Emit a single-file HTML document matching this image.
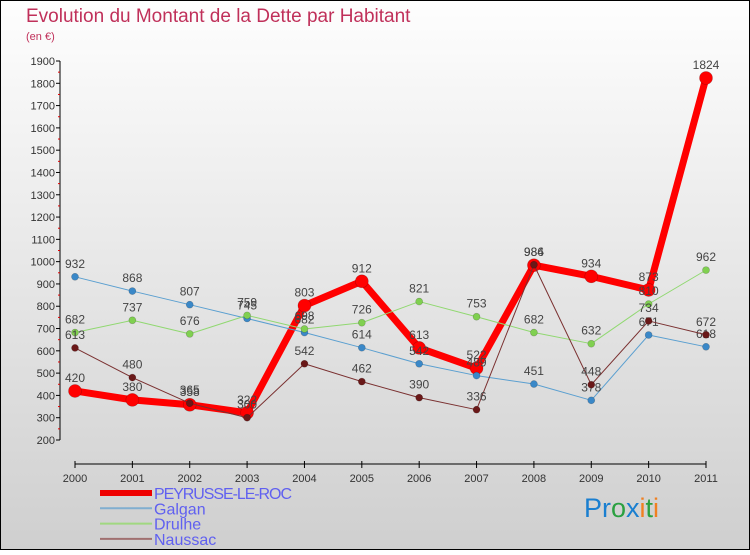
<!DOCTYPE html>
<html><head><meta charset="utf-8"><style>
body{margin:0}
svg text{font-family:"Liberation Sans",sans-serif}
</style></head><body>
<svg id="c" width="750" height="550" xmlns="http://www.w3.org/2000/svg">
<defs><linearGradient id="bg" x1="0" y1="0" x2="0" y2="1"><stop offset="0" stop-color="#fefefe"/><stop offset="1" stop-color="#cfcfcf"/></linearGradient></defs>
<rect x="0.5" y="0.5" width="749" height="549" fill="url(#bg)" stroke="#000"/>
<text x="26" y="22" font-size="19" fill="#c0305a">Evolution du Montant de la Dette par Habitant</text>
<text x="26" y="40" font-size="11" fill="#c0305a">(en €)</text>
<g id="axes"></g><g id="series"></g><g id="legend"></g>
<text x="584" y="517" font-size="27" font-family="Liberation Sans"><tspan fill="#1a7fd0">Pr</tspan><tspan fill="#2aa040">o</tspan><tspan fill="#1a7fd0">x</tspan><tspan fill="#f08020">i</tspan><tspan fill="#2aa040">t</tspan><tspan fill="#f08020">i</tspan></text>
</svg>
<script>
const years=["2000","2001","2002","2003","2004","2005","2006","2007","2008","2009","2010","2011"];
const yTicks=[200,300,400,500,600,700,800,900,1000,1100,1200,1300,1400,1500,1600,1700,1800,1900];
const peyrusse=[420,380,358,322,803,912,613,522,984,934,873,1824];
const galgan=[932,868,807,745,682,614,542,489,451,378,671,618];
const drulhe=[682,737,676,759,698,726,821,753,682,632,810,962];
const naussac=[613,480,365,300,542,462,390,336,986,448,734,672];
const NS="http://www.w3.org/2000/svg";
const x=i=>75+i*(706-75)/(years.length-1);
const y=v=>440-(v-200)*(440-61)/1700;
function mk(t,a,p){const e=document.createElementNS(NS,t);for(const k in a)e.setAttribute(k,a[k]);p.appendChild(e);return e;}
const ax=document.getElementById('axes');
let e=mk('line',{x1:60,y1:y(1900),x2:60,y2:y(200),stroke:'#000'},ax);


yTicks.forEach(v=>{
 mk('line',{x1:56,y1:y(v),x2:60,y2:y(v),stroke:'#000'},ax);
 if(v<1900) mk('line',{x1:58,y1:y(v+50),x2:60,y2:y(v+50),stroke:'#d00'},ax);
 const t=mk('text',{x:55,y:y(v)+4,'font-size':11,'text-anchor':'end',fill:'#333'},ax);t.textContent=v;
 
 
});
e=mk('line',{x1:75,y1:464,x2:706,y2:464,stroke:'#000'},ax);


years.forEach((yr,i)=>{
 mk('line',{x1:x(i),y1:461,x2:x(i),y2:468,stroke:'#000'},ax);
 const t=mk('text',{x:x(i),y:482,'font-size':11,'text-anchor':'middle',fill:'#333'},ax);t.textContent=yr;
 
 
});
const S=document.getElementById('series');
const series=[
 {n:'galgan',d:galgan,c:'#5a9fd0',w:1,r:3.5,f:'#3a88c8'},
 {n:'drulhe',d:drulhe,c:'#90d870',w:1,r:3.5,f:'#80d050'},
 {n:'naussac',d:naussac,c:'#7a3030',w:1,r:3.5,f:'#6a1818'},
 {n:'peyrusse',d:peyrusse,c:'#ff0000',w:7,r:6.5,f:'#ff0000'}];
const order=[3,0,1,2];
order.forEach(k=>{const s=series[k];
 const g=mk('g',{},S);
 
 
 mk('polyline',{points:s.d.map((v,i)=>x(i)+','+y(v)).join(' '),fill:'none',stroke:s.c,'stroke-width':s.w,'stroke-linejoin':'round'},g);
 s.d.forEach((v,i)=>{
  const c=mk('circle',{cx:x(i),cy:y(v),r:s.r,fill:s.f,stroke:'rgba(0,0,0,0.25)','stroke-width':0.6},g);
  
  
  const t=mk('text',{x:x(i),y:y(v)-9,'font-size':12,'text-anchor':'middle',fill:'#444'},g);t.textContent=v;
  
  
 });
});
const L=document.getElementById('legend');
const leg=[['PEYRUSSE-LE-ROC','#ee0000',6],['Galgan','#80aed0',2],['Drulhe','#a0d880',2],['Naussac','#a07070',2]];
leg.forEach((l,i)=>{
 const yy=493+i*15.3;
 const g=mk('g',{},L);
 
 
 mk('line',{x1:100,y1:yy,x2:152,y2:yy,stroke:l[1],'stroke-width':l[2]},g);
 const t=mk('text',{x:154,y:yy+6,'font-size':16,fill:'#6060f0'},g);
 t.textContent=l[0];
 if(i===0){t.setAttribute('textLength','138');}
});
</script>
</body></html>
